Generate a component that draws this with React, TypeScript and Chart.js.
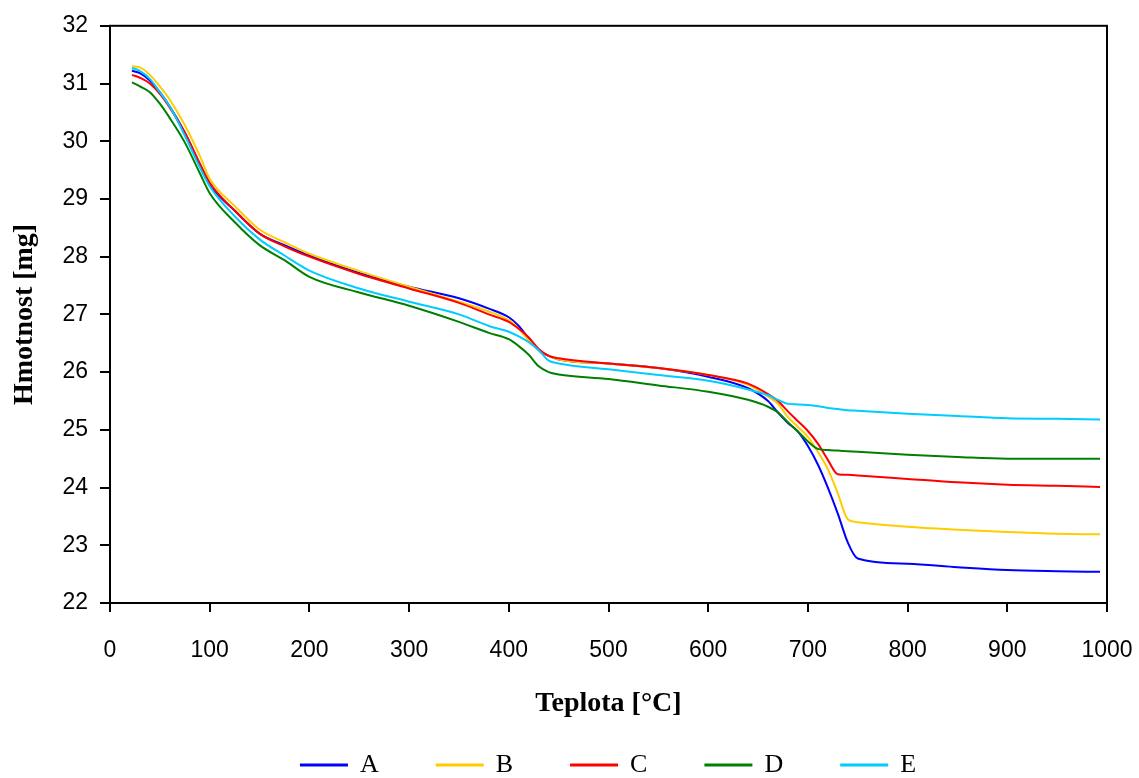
import React, { useEffect, useRef } from "react";
import { Chart, registerables } from "chart.js";

Chart.register(...registerables);

const temperature = [22, 30, 40, 50, 60, 75, 90, 100, 125, 150, 175, 200, 250, 300, 350, 380, 400, 410, 420, 430, 440, 450, 500, 550, 600, 640, 660, 670, 680, 690, 700, 710, 720, 730, 740, 750, 800, 850, 900, 950, 993];

const seriesA = [31.22, 31.18, 31.05, 30.85, 30.6, 30.15, 29.6, 29.25, 28.8, 28.4, 28.2, 28.02, 27.72, 27.48, 27.28, 27.1, 26.95, 26.8, 26.58, 26.38, 26.28, 26.22, 26.15, 26.07, 25.92, 25.72, 25.5, 25.3, 25.12, 24.97, 24.72, 24.4, 24.0, 23.55, 23.05, 22.77, 22.68, 22.62, 22.57, 22.55, 22.54];
const seriesB = [31.3, 31.28, 31.15, 30.95, 30.72, 30.28, 29.75, 29.35, 28.88, 28.47, 28.25, 28.05, 27.75, 27.48, 27.22, 27.05, 26.9, 26.75, 26.55, 26.38, 26.28, 26.22, 26.15, 26.07, 25.95, 25.78, 25.58, 25.45, 25.22, 25.05, 24.88, 24.62, 24.32, 23.9, 23.45, 23.4, 23.32, 23.27, 23.23, 23.2, 23.19];
const seriesC = [31.15, 31.1, 31.0, 30.82, 30.58, 30.15, 29.62, 29.28, 28.8, 28.4, 28.18, 28.0, 27.7, 27.45, 27.2, 27.0, 26.87, 26.75, 26.6, 26.4, 26.28, 26.24, 26.15, 26.07, 25.95, 25.8, 25.62, 25.5, 25.32, 25.15, 24.98, 24.76, 24.48, 24.23, 24.22, 24.21, 24.15, 24.09, 24.05, 24.03, 24.01];
const seriesD = [31.02, 30.95, 30.85, 30.65, 30.4, 29.98, 29.45, 29.1, 28.6, 28.2, 27.94, 27.65, 27.38, 27.15, 26.87, 26.68, 26.57, 26.45, 26.3, 26.1, 26.0, 25.96, 25.88, 25.77, 25.66, 25.52, 25.4, 25.3, 25.13, 24.97, 24.8, 24.67, 24.65, 24.64, 24.63, 24.62, 24.57, 24.53, 24.5, 24.5, 24.5];
const seriesE = [31.27, 31.22, 31.08, 30.85, 30.6, 30.1, 29.55, 29.22, 28.7, 28.3, 28.02, 27.76, 27.45, 27.22, 27.0, 26.8, 26.7, 26.62, 26.52, 26.38, 26.2, 26.15, 26.05, 25.95, 25.85, 25.7, 25.6, 25.52, 25.45, 25.44, 25.43, 25.41, 25.38, 25.36, 25.34, 25.33, 25.28, 25.24, 25.2, 25.19, 25.18];

const seriesNames = ["A", "B", "C", "D", "E"];
const seriesColors = ["#0000FF", "#FFCC00", "#FF0000", "#008000", "#00CCFF"];
const seriesValues = [seriesA, seriesB, seriesC, seriesD, seriesE];

const xTitle = "Teplota [°C]";
const yTitle = "Hmotnost [mg]";

const framePlugin = {
  id: "frame",
  afterDatasetsDraw(chart: any) {
    const { ctx, chartArea } = chart;
    ctx.save();
    ctx.strokeStyle = "#000";
    ctx.lineWidth = 2;
    ctx.strokeRect(chartArea.left, chartArea.top, chartArea.right - chartArea.left, chartArea.bottom - chartArea.top);
    ctx.restore();
  },
};

export default function App() {
  const ref = useRef<HTMLCanvasElement | null>(null);

  useEffect(() => {
    if (!ref.current) return;
    const datasets = seriesValues.map((vals, i) => ({
      label: seriesNames[i],
      data: vals.map((y, j) => ({ x: temperature[j], y })),
      borderColor: seriesColors[i],
      backgroundColor: seriesColors[i],
      borderWidth: 2,
      pointRadius: 0,
      cubicInterpolationMode: "monotone",
      fill: false,
      order: 5 - i,
    }));
    const chart = new Chart(ref.current, {
      type: "line",
      data: { datasets },
      plugins: [framePlugin],
      options: {
        animation: false,
        responsive: false,
        layout: { padding: { top: 24, right: 32, left: 0, bottom: -10 } },
        plugins: {
          tooltip: { enabled: false },
          legend: {
            position: "bottom",
            fullSize: false,
            labels: {
              sort: (a: any, b: any) => a.datasetIndex - b.datasetIndex,
              boxWidth: 46,
              boxHeight: 1,
              padding: 58,
              color: "#000",
              font: { family: "'Liberation Serif', serif", size: 26 },
            },
          },
        },
        scales: {
          x: {
            type: "linear",
            min: 0,
            max: 1000,
            afterFit: (scale: any) => {
              scale.height = 91;
              scale.paddingLeft = 0;
              scale.paddingRight = 0;
            },
            ticks: {
              stepSize: 100,
              color: "#000",
              padding: 25,
              font: { family: "'Liberation Sans', sans-serif", size: 23 },
              callback: (v: any) => String(v),
            },
            grid: { drawOnChartArea: false, drawTicks: true, tickLength: 9, color: "#000", lineWidth: 2 },
            border: { display: true, color: "#000", width: 2 },
            title: {
              display: true,
              text: xTitle,
              color: "#000",
              font: { family: "'Liberation Serif', serif", size: 28, weight: "bold" },
              padding: { top: 0, bottom: -27 },
            },
          },
          y: {
            type: "linear",
            min: 22,
            max: 32,
            afterFit: (scale: any) => {
              scale.width = 110;
            },
            ticks: {
              stepSize: 1,
              color: "#000",
              padding: 12,
              font: { family: "'Liberation Sans', sans-serif", size: 23 },
            },
            grid: { drawOnChartArea: false, drawTicks: true, tickLength: 10, color: "#000", lineWidth: 2 },
            border: { display: true, color: "#000", width: 2 },
            title: {
              display: true,
              text: yTitle,
              color: "#000",
              font: { family: "'Liberation Serif', serif", size: 28, weight: "bold" },
              padding: { top: 8, bottom: 20 },
            },
          },
        },
      },
    } as any);
    return () => chart.destroy();
  }, []);

  return (
    <div style={{ position: "fixed", left: 0, top: 0, width: 1139, height: 778, background: "#fff" }}>
      <canvas ref={ref} width={1139} height={778} style={{ display: "block" }} />
    </div>
  );
}
